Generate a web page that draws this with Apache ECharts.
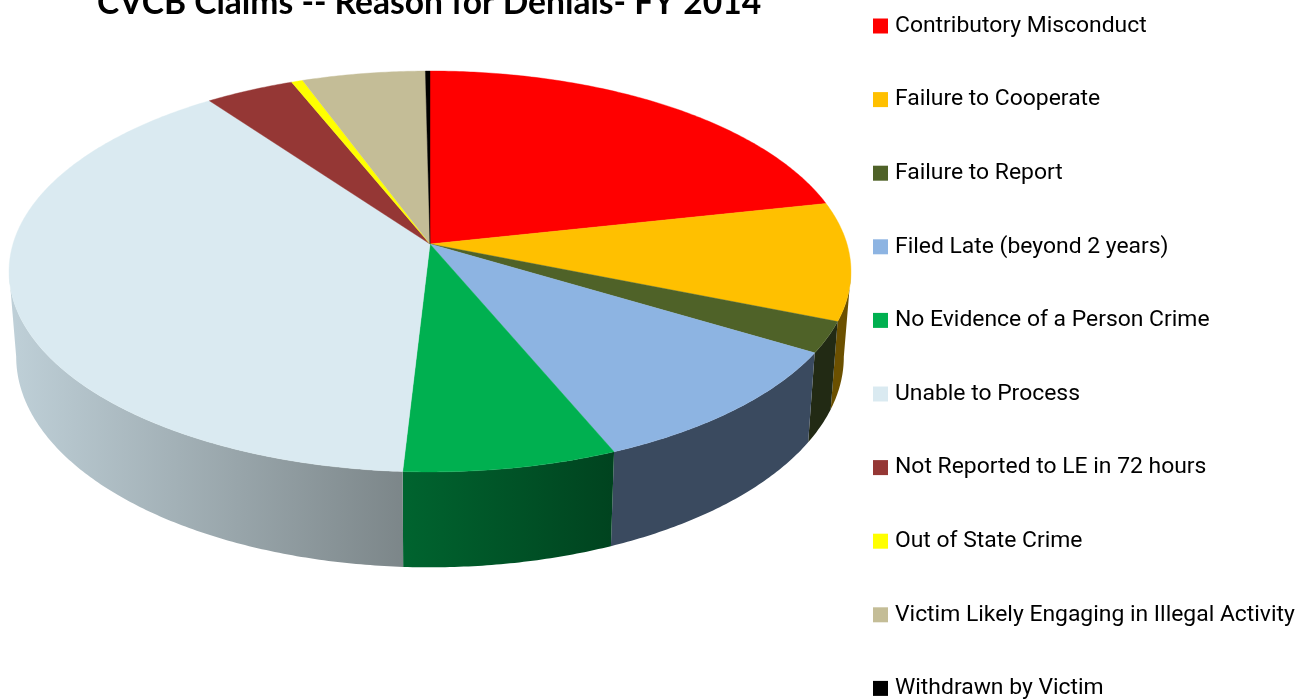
<!DOCTYPE html>
<html>
<head>
<meta charset="utf-8">
<title>CVCB Claims</title>
<style>
    html, body { margin: 0; padding: 0; background: #fff; overflow: hidden; }
    #chart { width: 1298px; height: 700px; }
</style>
<script src="https://cdn.jsdelivr.net/npm/echarts@6/dist/echarts.min.js"></script>
</head>
<body>
<div id="chart"></div>
<script>
    const categories = [
        'Contributory Misconduct',
        'Failure to Cooperate',
        'Failure to Report',
        'Filed Late (beyond 2 years)',
        'No Evidence of a Person Crime',
        'Unable to Process',
        'Not Reported to LE in 72 hours',
        'Out of State Crime',
        'Victim Likely Engaging in Illegal Activity',
        'Withdrawn by Victim'
    ]
    // percent of denials
    const shares = [21.6, 9.5, 2.5, 10.1, 7.2, 39.1, 3.9, 0.5, 5.4, 0.2]

    const topColors = ['#ff0000', '#ffc000', '#4f6228', '#8db4e2', '#00b050', '#daeaf1', '#953735', '#ffff00', '#c4bd97', '#000000']
    // left and right colour of the side wall
    const sideColors = [
        ['#990000', '#990000'],
        ['#6b5000', '#6b5000'],
        ['#222a14', '#222a14'],
        ['#3a4a5f', '#3a4a5f'],
        ['#00642f', '#00431f'],
        ['#bfd0d8', '#7c8689'],
        ['#3f1716', '#3f1716'],
        ['#6b6b00', '#6b6b00'],
        ['#53503f', '#53503f'],
        ['#000000', '#000000']
    ]

    // apex of the pie and perspective of the disc
    const apexX = 430
    const apexY = 244
    const scaleX = 417
    const scaleY = 196.7
    const tilt = 0.137
    // bottom face relative to the top face
    const bottomApexY = 328
    const bottomScaleX = 0.983
    const bottomScaleY = 1.05
    // angle where the wall starts to be visible, on both sides
    const wallFrom = Math.acos(-tilt)
    const wallTo = 2 * Math.PI - wallFrom

    const total = shares.reduce((a, b) => a + b, 0)
    const startAngles = []
    let running = 0
    shares.forEach(v => {
        startAngles.push(running / total * 2 * Math.PI)
        running += v
    })

    const topPoint = (angle) => {
        const u = Math.sin(angle)
        const v = Math.cos(angle)
        const d = 1 + tilt * v
        return [apexX + scaleX * u / d, apexY - scaleY * v / d]
    }

    const bottomPoint = (angle) => {
        const p = topPoint(angle)
        return [
            apexX + (p[0] - apexX) * bottomScaleX,
            bottomApexY + (p[1] - apexY) * bottomScaleY
        ]
    }

    const arc = (from, to, pointAt) => {
        const steps = Math.max(2, Math.ceil((to - from) / 0.01))
        const pts = []
        for (let i = 0; i <= steps; i++) {
            pts.push(pointAt(from + (to - from) * i / steps))
        }
        return pts
    }

    const renderSlice = (index) => (params, api) => {
        const from = startAngles[index]
        const to = from + api.value(0) / total * 2 * Math.PI
        const children = []

        const wallStart = Math.max(from, wallFrom)
        const wallEnd = Math.min(to, wallTo)
        if (wallEnd > wallStart) {
            const upper = arc(wallStart, wallEnd, topPoint)
            const lower = arc(wallStart, wallEnd, bottomPoint)
            const wall = upper.concat(lower.reverse())
            const xs = wall.map(p => p[0])
            const fill = new echarts.graphic.LinearGradient(
                Math.min(...xs), 0, Math.max(...xs), 0,
                [
                    {offset: 0, color: sideColors[index][0]},
                    {offset: 1, color: sideColors[index][1]}
                ],
                true
            )
            children.push({
                type: 'polygon',
                shape: {points: wall},
                style: {fill: fill}
            })
        }

        children.push({
            type: 'polygon',
            shape: {points: [[apexX, apexY]].concat(arc(from, to, topPoint))},
            style: {fill: topColors[index], stroke: topColors[index], lineWidth: 0.4}
        })

        return {type: 'group', children: children}
    }

    const series = categories.map((name, index) => ({
        name: name,
        type: 'custom',
        coordinateSystem: 'none',
        renderItem: renderSlice(index),
        itemStyle: {color: topColors[index]},
        data: [[shares[index]]],
        animation: false,
        silent: true
    }))

    const myChart = echarts.init(document.getElementById('chart'))

    const option = {
        animation: false,
        backgroundColor: '#ffffff',
        title: {
            text: 'CVCB Claims -- Reason for Denials- FY 2014',
            left: 97,
            top: -14,
            padding: 0,
            textStyle: {
                fontFamily: 'Lato',
                fontWeight: 'bold',
                fontSize: 33.6,
                color: '#000000'
            }
        },
        legend: {
            orient: 'vertical',
            left: 873,
            top: 14.5,
            padding: 0,
            itemWidth: 15,
            itemHeight: 15,
            itemGap: 50.6,
            icon: 'rect',
            itemStyle: {borderWidth: 0},
            selectedMode: false,
            textStyle: {
                fontFamily: 'Roboto',
                fontSize: 22.9,
                lineHeight: 15,
                color: '#000000',
                padding: [0, 0, 0, 2]
            },
            data: categories
        },
        series: series
    }

    option && myChart.setOption(option)
</script>
</body>
</html>
